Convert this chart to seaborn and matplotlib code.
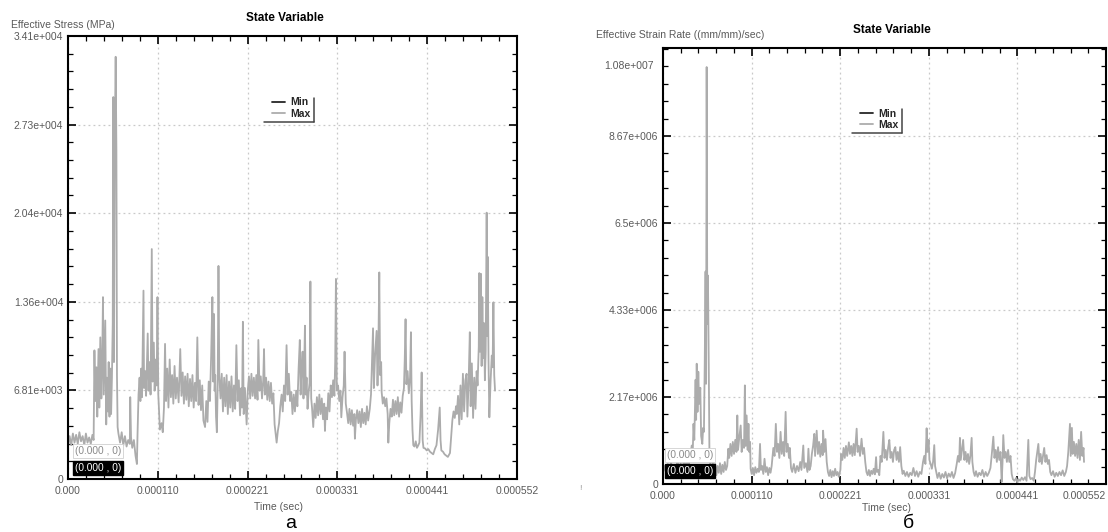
import seaborn as sns
import matplotlib.pyplot as plt
import pandas as pd
import numpy as np
from matplotlib.ticker import AutoMinorLocator
from matplotlib.lines import Line2D

sns.set_theme(style="ticks")
plt.rcParams['font.family'] = ['Liberation Sans', 'DejaVu Sans']
plt.rcParams.update({
    'xtick.direction': 'in', 'ytick.direction': 'in',
    'xtick.top': True, 'ytick.right': True,
    'xtick.major.size': 6, 'ytick.major.size': 6,
    'xtick.minor.size': 3.5, 'ytick.minor.size': 3.5,
    'xtick.major.width': 1.2, 'ytick.major.width': 1.2,
    'xtick.minor.width': 0.9, 'ytick.minor.width': 0.9,
})

# --- data (time in microseconds) ---
stress_t = [0, 2, 4, 6, 8, 10, 12, 14, 16, 18, 20, 22, 24, 26, 28, 30, 31.5, 32.5, 33.5, 35,
            36, 37.5, 38.5, 39.7, 41, 42, 43, 44, 45, 45.8, 47, 47.9, 49, 50, 51, 52, 53, 54, 55, 55.7,
            56.5, 57.5, 58.6, 59.5, 60.2, 61, 62, 64, 66, 68, 70, 72, 74, 76, 76.5, 77.5, 79, 81, 83, 84.7,
            85.5, 86.7, 88, 89, 90, 91, 92.8, 93.5, 95, 96, 98, 99, 100.5, 101.5, 103, 104, 105.5, 106.5, 108, 109,
            110, 111, 113, 115, 116.5, 118, 119.3, 120.5, 122, 123.5, 125, 126.5, 128, 129.5, 131, 132.5, 134, 136, 138, 139.5,
            141, 142.5, 144, 145.5, 147, 148.5, 150, 151.5, 153, 154.5, 156, 157.5, 159, 160.5, 162, 163.5, 165, 166.5, 168.5, 170,
            171.5, 173, 174.5, 176, 177.5, 178.5, 179.5, 180.3, 181, 182, 183, 184, 185, 186, 187.5, 189, 190.5, 192, 193.5, 195,
            196.5, 198, 199.5, 201, 202.5, 204, 205.5, 207, 208.5, 210, 211.5, 213, 214, 215, 216, 217.5, 219.6, 221, 222.5, 224,
            225.5, 227, 228.5, 230, 231.5, 233, 234, 235.5, 237, 238.5, 240, 241, 242, 243.5, 245, 246.5, 248, 249.5, 251, 252.5,
            254, 255.5, 256.5, 258, 259.5, 261, 262.6, 264, 265.5, 267, 268.7, 270, 271.5, 273, 274.5, 276, 277.5, 279, 280.5, 282,
            283.5, 285, 286, 287, 288.4, 289.5, 290.5, 291.3, 292.3, 293.3, 294.5, 296, 297, 298, 299, 300, 301.5, 303, 304.5, 306,
            307.5, 309, 310.5, 312, 313.5, 315, 315.9, 317, 318.5, 320, 321.5, 323, 324.5, 326, 327.5, 328.5, 329.4, 330.5, 332, 333.5,
            335, 336, 337.5, 339, 340, 341.5, 343, 344.5, 346, 347.5, 349, 350.5, 352, 352.7, 354, 355.5, 357, 358.5, 360, 361.5,
            363, 364.5, 366, 367.5, 369, 371, 372.5, 373.5, 375, 376, 377.5, 379.4, 380.5, 381.5, 382.7, 383.7, 385, 385.6, 387, 388.5,
            390, 391.5, 393, 393.8, 395, 396.5, 398, 399.5, 401, 402.5, 404, 405.5, 407, 408.5, 410, 411.5, 413, 414, 415, 416,
            417.5, 419, 420.5, 421.6, 422.5, 423.5, 424.5, 426, 427.5, 429, 430.7, 432, 433.5, 434.8, 436, 437, 439, 441, 443, 445,
            447, 449, 451, 453, 455, 457, 458, 459, 461, 463, 465, 467, 469.6, 471, 472.5, 474, 475.5, 477, 478, 479.5,
            481, 482.5, 484, 485.5, 487, 488.5, 490, 491, 492.5, 494, 495, 496.5, 498, 499.5, 501, 502.4, 503.5, 505, 505.6, 506.5,
            507.5, 508.5, 509.4, 510.5, 511.5, 512.5, 513.5, 514.7, 515.5, 516, 517, 518, 519.5, 521, 522, 523, 524, 525]
stress_max = [2500, 3300, 2600, 3500, 2800, 3400, 2700, 3600, 2900, 3300, 2600, 3500, 2800, 3200, 2700, 3400, 3000, 9900, 6000, 8600,
              4800, 10000, 5500, 10900, 6200, 8800, 14000, 6500, 9500, 12200, 4200, 7800, 5200, 9000, 4800, 8500, 5000, 7800, 12000, 29400,
              9000, 26000, 32500, 25300, 8000, 4000, 3500, 2800, 3600, 2600, 3300, 2500, 3000, 2700, 6300, 3200, 2400, 3000, 1800, 1150,
              3500, 6500, 7800, 6000, 8500, 6300, 14500, 7000, 8300, 6400, 11200, 6800, 9000, 6500, 17700, 7500, 10500, 6800, 9200, 7200,
              14000, 6500, 3800, 4300, 3600, 5500, 10400, 6000, 8500, 5500, 9200, 6300, 8000, 5800, 8700, 6200, 7800, 5900, 10000, 6400,
              8200, 5800, 7900, 6100, 8100, 5600, 7700, 6000, 8000, 5500, 7400, 6000, 10900, 5700, 7600, 5300, 7200, 4500, 4000, 6000,
              4400, 7500, 6000, 9500, 14000, 7500, 12700, 6800, 8000, 4800, 3600, 7000, 16400, 8000, 6200, 8100, 5200, 7800, 5600, 8000,
              5000, 7500, 5500, 7900, 5200, 7200, 5400, 10300, 6000, 7600, 4900, 7000, 5500, 12100, 5000, 7000, 4200, 6800, 7900, 6200,
              8100, 6400, 7800, 6200, 8000, 6100, 10700, 6800, 7900, 6200, 7600, 10000, 6500, 7800, 6100, 7500, 6000, 7400, 5800, 6600,
              4200, 3400, 2800, 3700, 4300, 5600, 6500, 5200, 7200, 6000, 10300, 6500, 8100, 6000, 6700, 5000, 6500, 5200, 6800, 5600,
              8500, 10700, 6500, 8300, 9800, 6200, 9000, 11800, 6500, 7800, 5400, 6800, 7400, 15200, 6200, 5500, 4000, 5800, 4700, 6300,
              4900, 6500, 5000, 6200, 4600, 5800, 3700, 5500, 4600, 6600, 5200, 7200, 6300, 7600, 6400, 9000, 15400, 6800, 7200, 6000,
              6800, 4750, 6300, 7200, 9800, 5800, 5100, 4300, 5400, 4200, 5300, 4100, 5000, 3100, 4600, 5300, 4300, 5200, 4000, 5400,
              4300, 5100, 4200, 5600, 4500, 5400, 6500, 8500, 11600, 7000, 9500, 11400, 7200, 9800, 15900, 8000, 9000, 6700, 5800, 6300,
              5600, 6200, 5000, 2800, 4300, 5400, 4800, 6100, 4900, 6000, 5000, 6300, 4800, 5900, 5100, 6400, 7000, 9200, 12300, 7300,
              8300, 6600, 7800, 11300, 6000, 3800, 2600, 2500, 2900, 2400, 2600, 2800, 5000, 8200, 3000, 2400, 2350, 2200, 2300, 2100,
              2000, 1900, 2300, 2600, 3800, 5500, 3000, 2200, 2100, 1900, 1800, 1700, 2000, 3200, 4500, 5200, 4700, 5600, 5000, 6400,
              4200, 7200, 4600, 8100, 5200, 7600, 8100, 4800, 7400, 11300, 5600, 8900, 4700, 7800, 5400, 8300, 7200, 10200, 15850, 9800,
              15800, 8700, 14000, 9300, 12000, 7600, 9800, 20500, 11000, 17100, 9000, 4750, 7500, 9500, 8600, 13600, 8000, 6800]

rate_t = [0, 2, 4, 6, 8, 10, 12, 14, 16, 18, 20, 22, 24, 26, 28, 30, 32, 34, 35.8, 37,
          38, 39, 40.6, 41.3, 42, 43, 44, 45, 46.5, 47.5, 49, 50, 51, 52, 53, 53.7, 54.4, 55.2, 56, 57,
          57.8, 59, 60.5, 62, 63.5, 65, 66.5, 68, 69.5, 71, 72.5, 74, 75.5, 77, 78.5, 80, 81.4, 82.5, 84, 85.5,
          87, 88.5, 90, 91.5, 92.6, 93.5, 95, 96.8, 98, 99.5, 101, 102, 103, 104.2, 105.5, 106.5, 107.5, 108.5, 109.2, 110.5,
          112, 113.5, 115, 116.5, 118, 119.5, 120.9, 122, 123.5, 125, 126.5, 128, 129.5, 131, 132.5, 134, 135.4, 137.5, 139, 140.6,
          142, 143.5, 145, 146.5, 148, 149.5, 151, 152.8, 154, 155.5, 157, 158, 159.5, 161, 163, 165, 167, 169, 171, 172.5,
          174.8, 176, 178, 180, 181.2, 182.5, 184, 185.5, 187, 188.5, 189.5, 191.5, 193, 194.5, 196, 197.5, 199, 199.5, 201, 202.5,
          204, 205.5, 207, 208.5, 210, 211.5, 213, 214.5, 216, 217.5, 219, 221, 222, 223.5, 225, 226.5, 228, 229.5, 231.6, 233,
          234.5, 236, 237.5, 239, 241.3, 242.5, 244, 245.5, 247.4, 249, 250.5, 252, 253.5, 255, 256.5, 258, 259.5, 261, 262.5, 264,
          265.5, 266.5, 268, 269.5, 271, 272.5, 274.6, 276, 277.5, 279, 280.5, 282, 283.5, 285, 286.5, 288, 289.5, 291, 292.5, 294,
          295.5, 297, 298.5, 300, 302, 304, 306, 308, 310, 312, 314, 316, 318, 320, 322, 324, 325.5, 327, 328.5, 329.5,
          331, 332, 333.5, 335, 336.5, 338, 339, 340.5, 342, 344, 346, 348, 350, 352, 354, 356, 358, 360, 362, 364,
          366, 367.5, 369, 370, 371, 372.5, 374, 375.5, 377, 378.5, 380, 381.5, 383, 384.6, 385.5, 387, 388.5, 390, 392, 394,
          396, 398, 400, 402, 404, 406, 408, 409.5, 411.6, 413, 414.5, 416, 417.5, 419, 420.5, 422, 423, 424, 425.5, 427,
          428.5, 430, 431.5, 433, 434.5, 436, 438, 440, 441.5, 443, 445, 447, 449, 451, 453, 455.2, 456.5, 458, 460, 462,
          463.5, 465, 467.7, 469, 470.5, 472, 473.5, 475, 476.5, 478, 479.5, 481, 482.5, 484, 486, 488, 490, 492, 494, 496,
          498, 500, 502, 503.5, 505, 507.1, 508, 509.5, 510.5, 512, 513.5, 515, 516.5, 518, 519.5, 521, 522.5, 524, 524.6]
rate_max = [0.30, 0.45, 0.25, 0.50, 0.30, 0.55, 0.28, 0.48, 0.32, 0.60, 0.35, 0.52, 0.30, 0.58, 0.40, 0.62, 0.45, 0.70, 0.96, 0.75,
            1.5, 1.1, 2.6, 1.6, 3.0, 1.8, 2.8, 2.0, 2.4, 1.2, 1.0, 1.4, 1.3, 3.0, 5.3, 2.5, 10.4, 4.0, 5.2, 3.0,
            0.90, 0.45, 0.25, 0.55, 0.30, 0.50, 0.22, 0.45, 0.28, 0.52, 0.25, 0.48, 0.30, 0.55, 0.35, 0.45, 0.88, 0.65, 1.00, 0.70,
            1.05, 0.75, 1.10, 0.80, 1.71, 0.85, 1.15, 1.46, 0.80, 1.10, 0.90, 2.46, 0.95, 1.71, 0.85, 1.50, 0.80, 1.05, 0.38, 0.25,
            0.40, 0.22, 0.42, 0.28, 0.38, 0.30, 1.00, 0.35, 0.45, 0.25, 0.63, 0.30, 0.42, 0.22, 0.40, 0.28, 0.45, 0.90, 0.70, 1.50,
            0.80, 1.00, 0.65, 1.30, 0.75, 1.05, 0.70, 1.80, 0.80, 1.00, 0.65, 0.90, 0.40, 0.30, 0.50, 0.28, 0.45, 0.32, 0.55, 0.35,
            0.96, 0.40, 0.52, 0.30, 0.88, 0.35, 0.45, 0.75, 0.95, 1.25, 0.70, 1.33, 0.75, 1.05, 0.68, 1.00, 0.72, 1.33, 0.80, 1.12,
            0.55, 0.30, 0.20, 0.35, 0.17, 0.32, 0.20, 0.38, 0.22, 0.30, 0.18, 0.35, 0.75, 0.60, 0.90, 0.65, 0.95, 0.70, 1.04, 0.75,
            0.95, 0.70, 1.00, 0.72, 1.38, 0.80, 0.95, 0.70, 1.13, 0.75, 0.90, 0.55, 0.30, 0.22, 0.35, 0.20, 0.33, 0.25, 0.38, 0.24,
            0.67, 0.30, 0.35, 0.22, 0.70, 0.55, 1.30, 0.65, 0.85, 0.60, 0.90, 1.10, 0.65, 0.80, 0.55, 0.85, 0.92, 0.60, 0.80, 0.55,
            0.92, 0.45, 0.25, 0.33, 0.20, 0.30, 0.18, 0.28, 0.22, 0.40, 0.20, 0.32, 0.18, 0.30, 0.25, 0.55, 0.70, 0.50, 1.39, 0.80,
            1.10, 0.60, 0.50, 0.38, 0.55, 0.97, 0.45, 0.30, 0.15, 0.28, 0.13, 0.25, 0.16, 0.30, 0.14, 0.26, 0.18, 0.30, 0.15, 0.27,
            0.50, 0.70, 0.55, 1.15, 0.60, 0.85, 1.10, 0.60, 0.80, 0.55, 0.75, 0.50, 0.70, 1.15, 0.55, 0.30, 0.20, 0.32, 0.18, 0.28,
            0.22, 0.35, 0.18, 0.30, 0.20, 0.28, 0.40, 0.70, 1.18, 0.65, 0.85, 0.55, 0.92, 0.60, 0.80, 0.05, 0.50, 1.22, 0.65, 0.80,
            0.55, 0.85, 0.55, 0.70, 0.25, 0.12, 0.08, 0.15, 0.03, 0.12, 0.08, 0.16, 0.10, 0.17, 0.08, 1.10, 0.20, 0.12, 0.15, 0.08,
            0.30, 0.60, 1.00, 0.55, 0.75, 0.50, 0.70, 0.90, 0.55, 0.72, 0.50, 0.60, 0.30, 0.22, 0.32, 0.18, 0.28, 0.20, 0.30, 0.22,
            0.34, 0.20, 0.30, 0.45, 0.80, 1.50, 0.70, 1.40, 0.75, 1.05, 0.70, 1.00, 0.65, 1.10, 0.60, 1.30, 0.70, 0.90, 0.55]

min_t = [0.0, 525.0]
stress_min = [0.0, 0.0]
rate_min = [0.0, 0.0]

x_ticks = [0.0, 110.4e-6, 220.8e-6, 331.2e-6, 441.6e-6, 552e-6]
x_labels = ["0.000", "0.000110", "0.000221", "0.000331", "0.000441", "0.000552"]
stress_ticks = [0, 6820, 13640, 20460, 27280, 34100]
stress_labels = ["0", "6.81e+003", "1.36e+004", "2.04e+004", "2.73e+004", "3.41e+004"]
rate_ticks = [0, 2.17e6, 4.34e6, 6.51e6, 8.68e6]
rate_labels = ["0", "2.17e+006", "4.33e+006", "6.5e+006", "8.67e+006"]

GREY = "#acacac"
DARK = "#262626"
TXT = "#5a5a5a"
W, H = 1108, 532


def make_frame(t, vmax, t_min, vmin, scale):
    a = pd.DataFrame({"time": np.array(t) * 1e-6, "value": np.array(vmax) * scale, "series": "Max"})
    b = pd.DataFrame({"time": np.array(t_min) * 1e-6, "value": np.array(vmin) * scale, "series": "Min"})
    return pd.concat([a, b], ignore_index=True)


def px(x, y):
    # pixel position -> figure fraction
    return x / W, 1 - y / H


def setup_axis(ax, ymax, yticks, ylabels):
    ax.set_xlim(0, 552e-6)
    ax.set_ylim(0, ymax)
    ax.set_xticks(x_ticks)
    ax.set_xticklabels(x_labels)
    ax.set_yticks(yticks)
    ax.set_yticklabels(ylabels)
    ax.xaxis.set_minor_locator(AutoMinorLocator(5))
    ax.yaxis.set_minor_locator(AutoMinorLocator(5))
    ax.tick_params(which="both", colors="black", labelcolor=TXT, labelsize=7.5, top=True, right=True)
    ax.tick_params(axis="x", pad=5)
    ax.grid(True, which="major", color="#c9c9c9", linestyle=(0, (1.5, 2.5)), linewidth=0.9)
    for s in ax.spines.values():
        s.set_linewidth(1.5)
        s.set_color("black")
    ax.set_xlabel("")
    ax.set_ylabel("")


def add_legend(ax, anchor):
    handles = [Line2D([], [], color=DARK, lw=1.3), Line2D([], [], color=GREY, lw=1.3)]
    leg = ax.legend(handles, ["Min", "Max"], loc="upper left", bbox_to_anchor=anchor,
                    prop={"size": 7.5, "weight": "bold"}, handlelength=1.3, handletextpad=0.5,
                    borderpad=0.3, labelspacing=0.1, frameon=True, fancybox=False)
    leg.get_frame().set_edgecolor("white")
    leg.get_frame().set_facecolor("white")
    leg.get_frame().set_alpha(1.0)
    return leg


def legend_edges(fig, leg):
    # thin dark edge on the right and bottom of the legend box, like the original software draws
    fig.canvas.draw()
    bb = leg.get_window_extent().transformed(fig.transFigure.inverted())
    fig.add_artist(Line2D([bb.x1, bb.x1], [bb.y0, bb.y1 - 0.006], transform=fig.transFigure, color="#444444", lw=1.1))
    fig.add_artist(Line2D([bb.x0 - 0.004, bb.x1], [bb.y0, bb.y0], transform=fig.transFigure, color="#444444", lw=1.1))


def coord_boxes(fig, x, y_white, y_black):
    fig.text(*px(x, y_white), "(0.000 , 0)", fontsize=7.3, color="#8a8a8a", va="center", ha="left",
             bbox=dict(boxstyle="square,pad=0.15", fc="white", ec="#d0d0d0", lw=0.6))
    fig.text(*px(x, y_black), "(0.000 , 0)", fontsize=7.3, color="white", va="center", ha="left",
             bbox=dict(boxstyle="square,pad=0.15", fc="black", ec="black"))


fig = plt.figure(figsize=(W / 100, H / 100), dpi=100)
fig.patch.set_facecolor("white")

pal = {"Max": GREY, "Min": DARK}

# --- panel a: effective stress ---
ax1 = fig.add_axes([68 / W, 1 - 479 / H, 449 / W, 443 / H])
df1 = make_frame(stress_t, stress_max, min_t, stress_min, 1.0)
sns.lineplot(data=df1, x="time", y="value", hue="series", hue_order=["Max", "Min"], palette=pal,
             estimator=None, sort=False, lw=1.3, legend=False, ax=ax1)
setup_axis(ax1, 34100, stress_ticks, stress_labels)
leg1 = add_legend(ax1, (0.435, 0.88))

fig.text(*px(11, 25), "Effective Stress (MPa)", fontsize=7.5, color=TXT, va="center", ha="left")
fig.text(*px(285, 18), "State Variable", fontsize=8.5, fontweight="bold", color="black", va="center", ha="center")
fig.text(*px(279, 507), "Time (sec)", fontsize=7.5, color=TXT, va="center", ha="center")
fig.text(*px(291, 523), "а", fontsize=14, color="black", va="center", ha="center")
coord_boxes(fig, 75, 451, 468)

# --- panel б: effective strain rate ---
ax2 = fig.add_axes([663 / W, 1 - 484 / H, 443 / W, 436 / H])
df2 = make_frame(rate_t, rate_max, min_t, rate_min, 1e6)
sns.lineplot(data=df2, x="time", y="value", hue="series", hue_order=["Max", "Min"], palette=pal,
             estimator=None, sort=False, lw=1.3, legend=False, ax=ax2)
setup_axis(ax2, 1.0875e7, rate_ticks, rate_labels)
last = ax2.get_xticklabels()[-1]
last.set_horizontalalignment("right")
ax2.text(-0.02, 1.0416e7, "1.08e+007", transform=ax2.get_yaxis_transform(), fontsize=7.5,
         color=TXT, ha="right", va="center")
leg2 = add_legend(ax2, (0.425, 0.88))

fig.text(*px(596, 35), "Effective Strain Rate ((mm/mm)/sec)", fontsize=7.5, color=TXT, va="center", ha="left")
fig.text(*px(892, 30), "State Variable", fontsize=8.5, fontweight="bold", color="black", va="center", ha="center")
fig.text(*px(886, 508), "Time (sec)", fontsize=7.5, color=TXT, va="center", ha="center")
fig.text(*px(908, 523), "б", fontsize=14, color="black", va="center", ha="center")
fig.text(*px(580, 489), "!", fontsize=6, color="#9a9a9a", va="center", ha="center")
coord_boxes(fig, 667, 455, 471)

legend_edges(fig, leg1)
legend_edges(fig, leg2)

fig.savefig("out.png", dpi=100, facecolor="white")
